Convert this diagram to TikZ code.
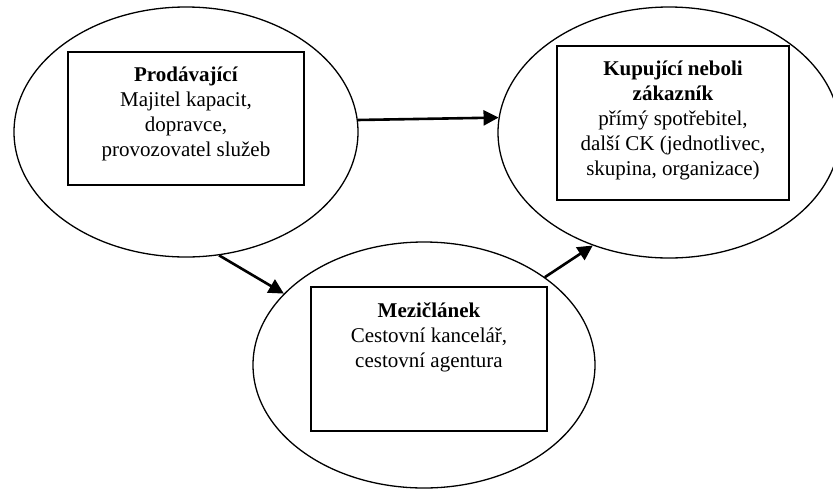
\documentclass[tikz,border=0pt]{standalone}
\usepackage{fontspec}
\setmainfont{Liberation Serif}
\usetikzlibrary{shapes.geometric,arrows.meta}
\tikzset{
  oval/.style={draw, ellipse, line width=1.3pt, inner sep=0pt},
  box/.style={draw, rectangle, line width=1.8pt, inner sep=0pt},
  txt/.style={align=center, inner sep=0pt, font=\fontsize{21}{25}\selectfont},
  arr/.style={line width=2.6pt, -{Triangle[length=15pt,width=15pt]}}
}
\begin{document}
\begin{tikzpicture}[x=1pt,y=-1pt]
        \useasboundingbox (0,0) rectangle (833,488);
        % 椭圆
        \node[oval, minimum width=344pt, minimum height=250pt] (prod) at (186,132) {};
        \node[oval, minimum width=342pt, minimum height=251pt] (kup) at (669,132.5) {};
        \node[oval, minimum width=342pt, minimum height=246pt] (mezi) at (424,365) {};

        % 方框
        \node[box, minimum width=236pt, minimum height=133pt] (prodbox) at (186,118.5) {};
        \node[box, minimum width=232pt, minimum height=154pt] (kupbox) at (673,123) {};
        \node[box, minimum width=236pt, minimum height=144pt] (mezibox) at (429,359) {};

        % 文字
        \node[txt, anchor=north] (prodtxt) at ([yshift=-16pt]prodbox.north)
            {\textbf{Prodávající}\\Majitel kapacit,\\dopravce,\\provozovatel služeb};
        \node[txt, anchor=north] (kuptxt) at ([yshift=-16pt]kupbox.north)
            {\textbf{Kupující neboli}\\\textbf{zákazník}\\přímý spotřebitel,\\další CK (jednotlivec,\\skupina, organizace)};
        \node[txt, anchor=north] (mezitxt) at ([yshift=-16pt]mezibox.north)
            {\textbf{Mezičlánek}\\Cestovní kancelář,\\cestovní agentura};

        % 箭头
        \draw[arr] (prod.4) -- (kup.175.8);
        \draw[arr] (prod.-75.9) -- (mezi.153.8);
        \draw[arr] (mezi.36) -- (kup.-124.5);
    \end{tikzpicture}
\end{document}
